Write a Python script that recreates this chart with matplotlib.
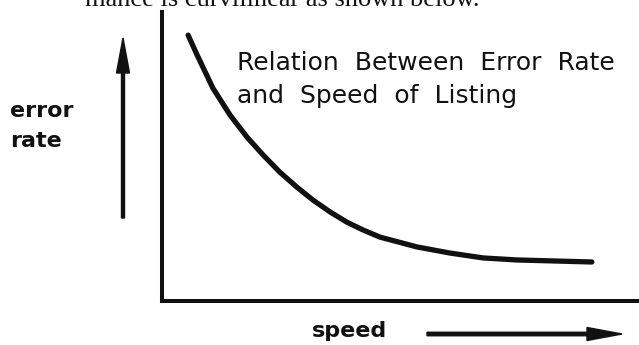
import matplotlib.pyplot as plt

# error rate falls steeply as listing speed increases, then levels off
SPEED = [5.5, 7.4, 10.7, 14.3, 17.9, 21.3, 24.8, 28.4, 31.8, 35.4, 38.9, 42.3, 45.9,
         53.7, 60.6, 67.6, 74.7, 90.5]
ERROR_RATE = [92.0, 85.1, 73.7, 64.4, 56.7, 50.5, 44.6, 39.4, 34.9, 30.8, 27.3, 24.6, 22.1,
              18.7, 16.6, 14.9, 14.2, 13.5]

TITLE_LINES = ["Relation  Between  Error  Rate", "and  Speed  of  Listing"]
Y_LABEL_LINES = ["error", "rate"]
X_LABEL = "speed"
CAPTION_TAIL = "mance is curvilinear as shown below."

W, H = 639, 345
INK = "#111111"

fig = plt.figure(figsize=(W / 100, H / 100), dpi=100)

# full-page layer in pixel units for the loose labels and arrows
page = fig.add_axes([0, 0, 1, 1])
page.set_xlim(0, W)
page.set_ylim(H, 0)
page.axis("off")

# the chart frame itself
ax = fig.add_axes([162 / W, (H - 301) / H, (637 - 162) / W, (301 - 12) / H])
ax.patch.set_alpha(0)
ax.set_xlim(0, 100)
ax.set_ylim(0, 100)
ax.set_xticks([])
ax.set_yticks([])
for side in ["top", "right"]:
    ax.spines[side].set_visible(False)
for side in ["left", "bottom"]:
    ax.spines[side].set_linewidth(2.9)
    ax.spines[side].set_color(INK)

ax.plot(SPEED, ERROR_RATE, color=INK, linewidth=3.8, solid_capstyle="round",
        solid_joinstyle="round", clip_on=False)

# direction arrows
page.arrow(123, 218, 0, -180, width=3, head_width=13, head_length=35,
           length_includes_head=True, color=INK)
page.arrow(427, 334, 195, 0, width=3.5, head_width=13, head_length=35,
           length_includes_head=True, color=INK)

page.text(237, 70, TITLE_LINES[0], fontsize=18, color=INK, va="baseline")
page.text(237, 103, TITLE_LINES[1], fontsize=18, color=INK, va="baseline")

page.text(10, 117, Y_LABEL_LINES[0], fontsize=16, fontweight="bold", color=INK, va="baseline")
page.text(10, 147, Y_LABEL_LINES[1], fontsize=16, fontweight="bold", color=INK, va="baseline")
page.text(312, 337, X_LABEL, fontsize=16, fontweight="bold", color=INK, va="baseline")

# tail of the preceding sentence, cut off at the top edge
page.text(85, 6, CAPTION_TAIL, fontsize=19, family="Liberation Serif", color=INK, va="baseline")

fig.savefig("out.png", dpi=100)
